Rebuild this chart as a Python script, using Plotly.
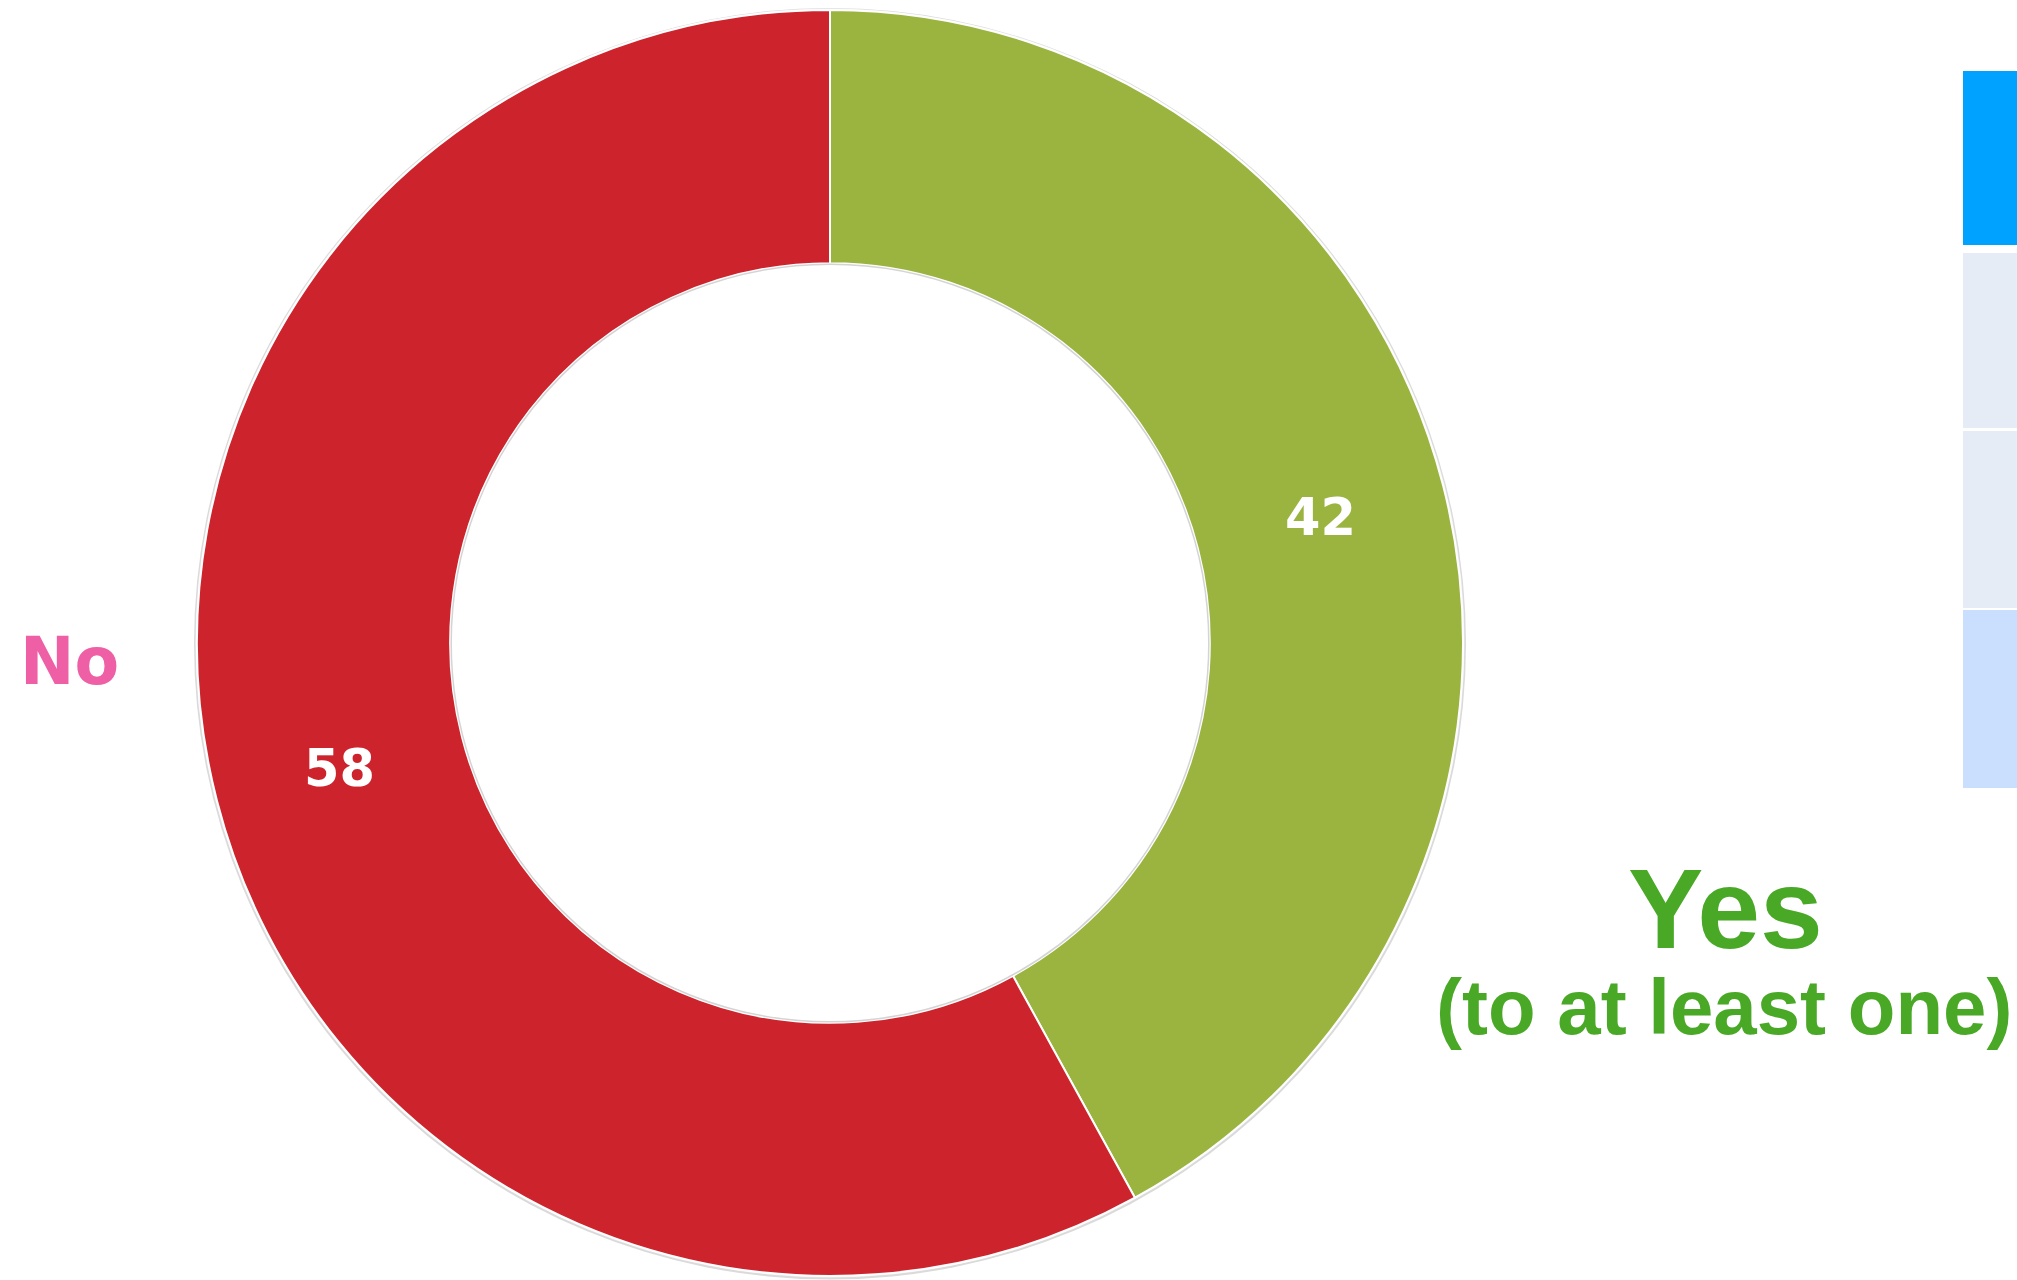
import plotly.graph_objects as go

W, H = 2017, 1280

labels = ["Yes", "No"]
values = [42, 58]
slice_colors = ["#9AB43F", "#CD232C"]

panel_colors = ["#00A2FF", "#E5ECF5", "#E5ECF5", "#CADFFD"]
panel_tops = [71, 253, 431, 610]
panel_bottoms = [245, 428, 608, 788]

# donut geometry in pixels
cx, cy, R = 830, 643, 633
hole = 0.6

def px(x):
    return x / W

def py(y):
    return 1 - y / H

fig = go.Figure()
fig.add_trace(go.Pie(
    labels=labels,
    values=values,
    hole=hole,
    sort=False,
    direction="clockwise",
    rotation=0,
    marker=dict(colors=slice_colors, line=dict(color="white", width=2)),
    textinfo="value",
    textposition="inside",
    insidetextfont=dict(family="DejaVu Sans", size=51, color="white", weight="bold"),
    showlegend=False,
    domain=dict(x=[px(cx - R), px(cx + R)], y=[py(cy + R), py(cy - R)]),
    hoverinfo="label+value",
))

shapes = []
# soft shadow ring behind the donut
shapes.append(dict(type="circle", xref="paper", yref="paper", layer="below",
                   x0=px(cx - R - 3), x1=px(cx + R + 3), y0=py(cy + R + 3.5), y1=py(cy - R - 2),
                   fillcolor="#dadada", line=dict(width=0)))
shapes.append(dict(type="circle", xref="paper", yref="paper", layer="below",
                   x0=px(cx - R - 1.5), x1=px(cx + R + 1.5), y0=py(cy + R + 1.5), y1=py(cy - R - 1.5),
                   fillcolor="#f2f2f2", line=dict(width=0)))
# white hole
ri = R * hole
shapes.append(dict(type="circle", xref="paper", yref="paper", layer="below",
                   x0=px(cx - ri - 2), x1=px(cx + ri + 2), y0=py(cy + ri + 2), y1=py(cy - ri - 2),
                   fillcolor="white", line=dict(width=0)))
# inner hole edge shading
shapes.append(dict(type="circle", xref="paper", yref="paper", layer="above",
                   x0=px(cx - ri + 1), x1=px(cx + ri - 1), y0=py(cy + ri - 1), y1=py(cy - ri + 1),
                   line=dict(color="#d4d4d4", width=1.5)))

for c, t, b in zip(panel_colors, panel_tops, panel_bottoms):
    shapes.append(dict(type="rect", xref="paper", yref="paper", layer="above",
                       x0=px(1963), x1=px(2030), y0=py(b), y1=py(t),
                       fillcolor=c, line=dict(width=0)))

annotations = [
    dict(text="No", x=px(69), y=py(661), xref="paper", yref="paper",
         showarrow=False, xanchor="center", yanchor="middle",
         font=dict(family="DejaVu Sans", size=65, color="#EE5FA6", weight="bold")),
    dict(text="Yes", x=px(1725), y=py(909), xref="paper", yref="paper",
         showarrow=False, xanchor="center", yanchor="middle",
         font=dict(family="Liberation Sans", size=113, color="#49A926", weight="bold")),
    dict(text="(to at least one)", x=px(1724), y=py(1007), xref="paper", yref="paper",
         showarrow=False, xanchor="center", yanchor="middle",
         font=dict(family="Liberation Sans", size=78, color="#49A926", weight="bold")),
]

fig.update_layout(
    width=W, height=H,
    margin=dict(l=0, r=0, t=0, b=0),
    paper_bgcolor="white",
    plot_bgcolor="white",
    shapes=shapes,
    annotations=annotations,
)

fig.write_html("out.html")
